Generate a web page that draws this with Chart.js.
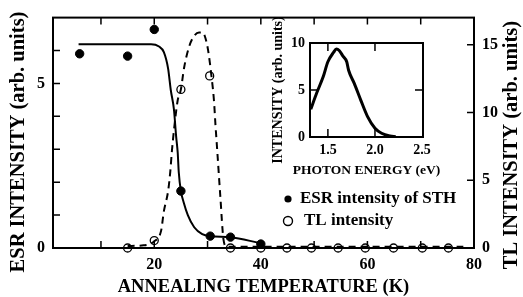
<!DOCTYPE html>
<html>
<head>
<meta charset="utf-8">
<script src="https://cdn.jsdelivr.net/npm/chart.js@4.4.1/dist/chart.umd.min.js"></script>
<style>
  html, body { margin: 0; padding: 0; background: #fff; }
  #wrap { position: relative; width: 523px; height: 297px; overflow: hidden; }
  #main { position: absolute; left: 0; top: 0; }
  #inset { position: absolute; left: 262px; top: 15px; }
</style>
</head>
<body>
<div id="wrap">
  <canvas id="main" width="523" height="297"></canvas>
  <canvas id="inset" width="185" height="165"></canvas>
</div>
<script>
/* ESR / TL annealing chart with a TL spectrum inset */

const FONT = "'Liberation Serif', 'Times New Roman', Times, serif";

// main panel: measured points
const esrTemp  = [6, 15, 20, 25, 30.5, 34.3, 40];
const esrValue = [5.9, 5.83, 6.64, 1.73, 0.36, 0.33, 0.12];
const tlTemp   = [15, 20, 25, 30.4, 34.3, 40, 44.9, 49.5, 54.5, 59.6, 64.9, 70.3, 75.2];
const tlValue  = [0, 0.55, 11.7, 12.7, 0, 0, 0, 0, 0, 0, 0, 0, 0];

// main panel: guide curves
const esrFitTemp  = [5.8, 19.4, 20.9, 21.8, 22.6, 23.1, 23.7, 24.1, 24.4, 24.6, 25, 25.5, 26.3, 27.5, 29, 30.5, 34.3, 39.8];
const esrFitValue = [6.19, 6.19, 6.12, 5.95, 5.45, 4.8, 4.2, 3.4, 2.9, 2.3, 1.73, 1.4, 1.0, 0.63, 0.42, 0.36, 0.33, 0.15];
const tlFitTemp  = [15, 18, 20, 21.3, 21.8, 22.6, 23, 23.3, 23.7, 24.4, 25, 25.6, 26.5, 27.4, 28.4, 29.1, 29.6, 30.1, 30.7, 31.2, 31.5, 31.8, 32.4, 33, 33.6, 40, 78];
const tlFitValue = [0.15, 0.2, 0.5, 1.3, 2.7, 4.2, 5.6, 7.1, 8.7, 10.9, 11.7, 13.3, 14.8, 15.6, 15.9, 15.9, 15.5, 14.6, 12.8, 10.9, 9.0, 7.3, 3.8, 0.6, 0.1, 0.1, 0.1];

// main panel: ticks
const xTickLabels  = [20, 40, 60, 80];
const xTickMarks   = [10, 20, 30, 40, 50, 60, 70];
const yTickLabels  = [0, 5];
const yTickMarks   = [1, 2, 3, 4, 5, 6];
const y2TickLabels = [0, 5, 10, 15];
const y2TickMarks  = [5, 10, 15];

// inset: TL spectrum
const photonEnergy = [1.318, 1.38, 1.45, 1.50, 1.56, 1.59, 1.62, 1.66, 1.70, 1.72, 1.78, 1.85, 1.92, 2.0, 2.07, 2.16, 2.22];
const tlSpectrum   = [2.95, 4.65, 6.4, 8.0, 9.0, 9.35, 9.2, 8.6, 8.0, 7.1, 5.7, 3.9, 2.2, 0.93, 0.4, 0.1, 0.02];
const insetXTickLabels = [1.5, 2.0, 2.5];
const insetXTickMarks  = [1.5, 2.0];
const insetYTickLabels = [0, 5, 10];
const insetYTickMarks  = [5];

function pts(xs, ys) {
    return xs.map((x, i) => ({ x: x, y: ys[i] }));
}

function fixedTicks(values) {
    return function (scale) {
        scale.ticks = values.map(v => ({ value: v }));
    };
}

// frame around the plot area plus inward tick marks
function framePlugin(marks, len) {
    return {
        id: 'frame',
        afterDraw: function (chart) {
            const { ctx, chartArea: a, scales } = chart;
            ctx.save();
            ctx.strokeStyle = '#000';
            ctx.lineWidth = 2;
            ctx.strokeRect(a.left, a.top, a.right - a.left, a.bottom - a.top);
            ctx.lineWidth = 1.5;
            ctx.beginPath();
            marks.forEach(m => {
                const s = scales[m.scale];
                m.values.forEach(v => {
                    const p = s.getPixelForValue(v);
                    if (m.side === 'bottom') { ctx.moveTo(p, a.bottom); ctx.lineTo(p, a.bottom - len); }
                    if (m.side === 'top')    { ctx.moveTo(p, a.top);    ctx.lineTo(p, a.top + len); }
                    if (m.side === 'left')   { ctx.moveTo(a.left, p);   ctx.lineTo(a.left + len, p); }
                    if (m.side === 'right')  { ctx.moveTo(a.right, p);  ctx.lineTo(a.right - len, p); }
                });
            });
            ctx.stroke();
            ctx.restore();
        }
    };
}

// axis titles drawn by hand (right one reads bottom-to-top, insets would get squeezed otherwise)
function titlesPlugin(getTitles) {
    return {
        id: 'titles',
        afterDraw: function (chart) {
            const ctx = chart.ctx;
            ctx.save();
            ctx.fillStyle = '#000';
            ctx.textAlign = 'center';
            ctx.textBaseline = 'middle';
            getTitles(chart.chartArea).forEach(t => {
                ctx.save();
                ctx.font = 'bold ' + t.size + 'px ' + FONT;
                ctx.translate(t.x, t.y);
                if (t.rot) ctx.rotate(t.rot);
                ctx.fillText(t.text, 0, 0);
                ctx.restore();
            });
            ctx.restore();
        }
    };
}

const legendPlugin = {
    id: 'plotLegend',
    afterDraw: function (chart) {
        const ctx = chart.ctx;
        const ds = chart.data.datasets;
        ctx.save();
        ctx.font = 'bold 17px ' + FONT;
        ctx.textBaseline = 'middle';
        ctx.fillStyle = '#000';
        ctx.strokeStyle = '#000';
        // filled marker
        ctx.beginPath();
        ctx.arc(288, 199, 3.6, 0, Math.PI * 2);
        ctx.fill();
        ctx.fillText(ds[0].label, 300, 199);
        // open marker
        ctx.lineWidth = 1.4;
        ctx.beginPath();
        ctx.arc(288, 221, 4.5, 0, Math.PI * 2);
        ctx.stroke();
        ctx.fillText(ds[1].label, 304, 221);
        ctx.restore();
    }
};

const tickFont = { family: FONT, size: 16, weight: 'bold' };

new Chart(document.getElementById('main'), {
    type: 'scatter',
    data: {
        datasets: [{
            label: 'ESR intensity of STH',
            data: pts(esrTemp, esrValue),
            yAxisID: 'y',
            pointRadius: 4.2,
            pointBackgroundColor: '#000',
            pointBorderColor: '#000',
            pointBorderWidth: 1,
            order: 0,
            clip: false
        }, {
            label: 'TL intensity',
            data: pts(tlTemp, tlValue),
            yAxisID: 'y2',
            pointRadius: 4,
            pointBackgroundColor: 'rgba(0,0,0,0)',
            pointBorderColor: '#000',
            pointBorderWidth: 1.3,
            order: 0,
            clip: false
        }, {
            label: 'ESR guide',
            data: pts(esrFitTemp, esrFitValue),
            yAxisID: 'y',
            showLine: true,
            borderColor: '#000',
            borderWidth: 2,
            pointRadius: 0,
            cubicInterpolationMode: 'monotone',
            order: 1
        }, {
            label: 'TL guide',
            data: pts(tlFitTemp, tlFitValue),
            yAxisID: 'y2',
            showLine: true,
            borderColor: '#000',
            borderWidth: 2,
            borderDash: [7, 5],
            pointRadius: 0,
            cubicInterpolationMode: 'monotone',
            order: 1
        }]
    },
    options: {
        responsive: false,
        animation: false,
        events: [],
        layout: { padding: { top: 13, left: 0, right: 0, bottom: 0 } },
        plugins: { legend: { display: false }, tooltip: { enabled: false } },
        scales: {
            x: {
                type: 'linear', position: 'bottom', min: 1, max: 80,
                afterBuildTicks: fixedTicks(xTickLabels),
                afterFit: s => { s.height = 49; },
                grid: { display: false, drawTicks: false },
                border: { display: false },
                ticks: { color: '#000', font: tickFont, padding: 7, maxRotation: 0 }
            },
            y: {
                type: 'linear', position: 'left', min: 0, max: 7,
                afterBuildTicks: fixedTicks(yTickLabels),
                afterFit: s => { s.width = 53; },
                grid: { display: false, drawTicks: false },
                border: { display: false },
                ticks: { color: '#000', font: tickFont, padding: 8 }
            },
            y2: {
                type: 'linear', position: 'right', min: 0, max: 17,
                afterBuildTicks: fixedTicks(y2TickLabels),
                afterFit: s => { s.width = 49; },
                grid: { display: false, drawTicks: false },
                border: { display: false },
                ticks: { color: '#000', font: tickFont, padding: 8 }
            }
        }
    },
    plugins: [
        framePlugin([
            { scale: 'x', side: 'bottom', values: xTickMarks },
            { scale: 'x', side: 'top', values: xTickMarks },
            { scale: 'y', side: 'left', values: yTickMarks },
            { scale: 'y2', side: 'right', values: y2TickMarks }
        ], 7),
        titlesPlugin(a => [
            { text: 'ANNEALING TEMPERATURE (K)', size: 18.5, x: (a.left + a.right) / 2, y: a.bottom + 39 },
            { text: 'ESR INTENSITY (arb. units)', size: 20.5, x: 19, y: 142, rot: -Math.PI / 2 },
            { text: 'TL INTENSITY (arb. units)', size: 20.5, x: a.right + 38, y: 145, rot: -Math.PI / 2 }
        ]),
        legendPlugin
    ]
});

const insetFont = { family: FONT, size: 14, weight: 'bold' };

new Chart(document.getElementById('inset'), {
    type: 'scatter',
    data: {
        datasets: [{
            label: 'TL spectrum',
            data: pts(photonEnergy, tlSpectrum),
            showLine: true,
            borderColor: '#000',
            borderWidth: 3,
            pointRadius: 0,
            cubicInterpolationMode: 'monotone'
        }]
    },
    options: {
        responsive: false,
        animation: false,
        events: [],
        layout: { padding: { top: 28, right: 24, left: 0, bottom: 0 } },
        plugins: { legend: { display: false }, tooltip: { enabled: false } },
        scales: {
            x: {
                type: 'linear', min: 1.31, max: 2.51,
                afterBuildTicks: fixedTicks(insetXTickLabels),
                afterFit: s => { s.height = 43; },
                grid: { display: false, drawTicks: false },
                border: { display: false },
                ticks: { color: '#000', font: insetFont, padding: 5, maxRotation: 0, callback: v => v.toFixed(1) }
            },
            y: {
                type: 'linear', min: 0, max: 10,
                afterBuildTicks: fixedTicks(insetYTickLabels),
                afterFit: s => { s.width = 48; },
                grid: { display: false, drawTicks: false },
                border: { display: false },
                ticks: { color: '#000', font: insetFont, padding: 5 }
            }
        }
    },
    plugins: [
        framePlugin([
            { scale: 'x', side: 'bottom', values: insetXTickMarks },
            { scale: 'x', side: 'top', values: insetXTickMarks },
            { scale: 'y', side: 'left', values: insetYTickMarks },
            { scale: 'y', side: 'right', values: insetYTickMarks }
        ], 8),
        titlesPlugin(a => [
            { text: 'PHOTON ENERGY (eV)', size: 13.5, x: (a.left + a.right) / 2, y: a.bottom + 34 },
            { text: 'INTENSITY (arb. units)', size: 14, x: 16, y: (a.top + a.bottom) / 2, rot: -Math.PI / 2 }
        ])
    ]
});
</script>
</body>
</html>
